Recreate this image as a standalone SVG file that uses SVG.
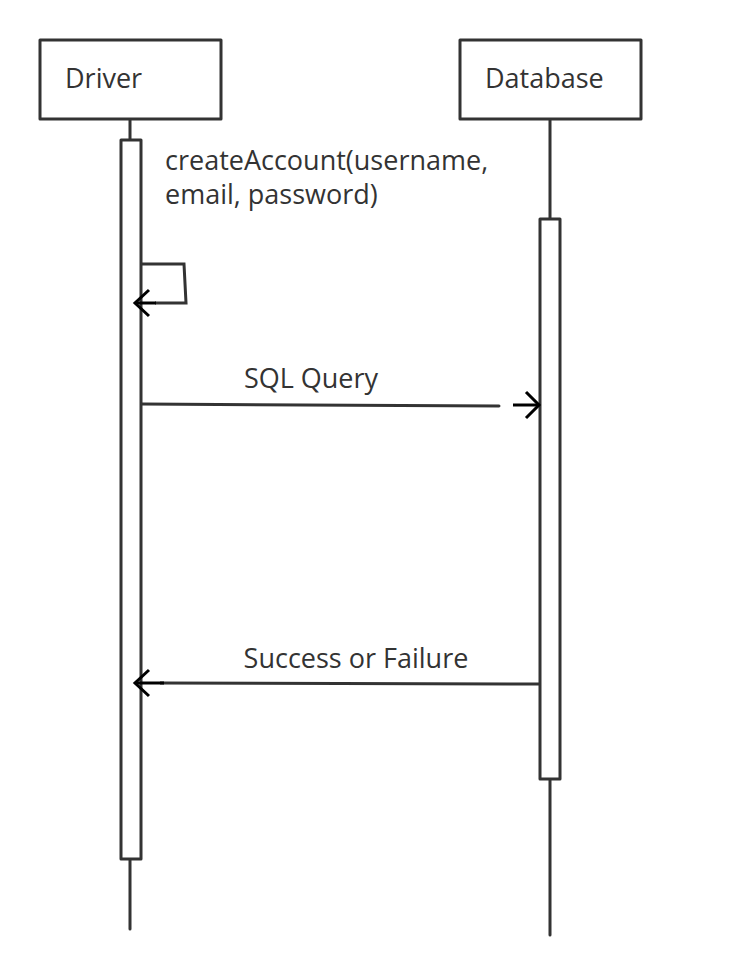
<svg xmlns="http://www.w3.org/2000/svg" width="745" height="975" viewBox="0 0 745 975">
<defs>
<style>
.box{fill:#fff;stroke:#333;stroke-width:3;stroke-linejoin:round}
.life{stroke:#333;stroke-width:3;fill:none;stroke-linecap:round}
.msg{stroke:#333;stroke-width:3;fill:none}
.head{stroke:#000;stroke-width:3;fill:none}
.t{font-family:"Open Sans","Noto Sans",sans-serif;font-size:27px;fill:#333}
</style>
</defs>
<rect width="745" height="975" fill="#fff"/>
<g id="driver">
<line class="life" x1="130" y1="119" x2="130" y2="929"/>
<rect class="box" x="40" y="40" width="181" height="79"/>
<text class="t" x="65" y="88">Driver</text>
<rect class="box" x="121" y="140" width="20" height="719"/>
</g>
<g id="database">
<line class="life" x1="550" y1="119" x2="550" y2="935"/>
<rect class="box" x="460" y="40" width="181" height="79"/>
<text class="t" x="485" y="88">Database</text>
<rect class="box" x="540" y="219" width="20" height="560"/>
</g>
<g id="connectors">
<polyline class="msg" points="142,264 184,264 186,303 155,303"/>
<line class="head" x1="156" y1="303" x2="135" y2="303"/>
<polyline class="head" points="149,290 135,303 149,316"/>
<text class="t" x="165" y="170">createAccount(username,</text>
<text class="t" x="165" y="204">email, password)</text>
<line class="msg" x1="142" y1="404" x2="499" y2="406" stroke-linecap="round"/>
<line class="head" x1="513" y1="405" x2="539" y2="405"/>
<polyline class="head" points="526,392 539,405 526,418"/>
<text class="t" x="311" y="388" text-anchor="middle">SQL Query</text>
<line class="msg" x1="539" y1="684" x2="160" y2="683"/>
<line class="head" x1="164" y1="683" x2="135" y2="683"/>
<polyline class="head" points="149,670 135,683 149,696"/>
<text class="t" x="356" y="668" text-anchor="middle">Success or Failure</text>
</g>
</svg>
